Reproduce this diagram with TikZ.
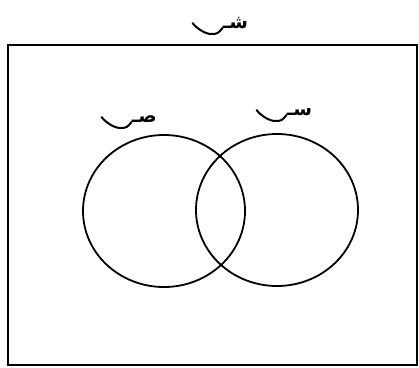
\documentclass[tikz,border=0pt]{standalone}
\usepackage{fontspec}
\newfontfamily\arabicfont[Script=Arabic]{DejaVu Sans}
\TeXXeTstate=1
\usetikzlibrary{shapes.geometric}
% wavy tail that marks a set name
\newcommand\setwave[1]{\draw[line width=2pt, line cap=round] ([xshift=0.5pt]#1.base west)
  .. controls +(-4,5) and +(6,0) .. ++(-11,6) .. controls +(-7,0) and +(4,5) .. ++(-19,-11);}
\begin{document}
\begin{tikzpicture}[x=1pt, y=-1pt, line width=1.8pt,
  every node/.style={inner sep=0pt},
  setlabel/.style={font=\arabicfont\bfseries\fontsize{19}{22}\selectfont, anchor=base west},
  setring/.style={draw, ellipse, minimum width=162pt, minimum height=152pt}]
  \useasboundingbox (0,0) rectangle (419,367);
  \node[draw, rectangle, minimum width=409pt, minimum height=320pt] (univ) at (212.5,205) {};
  \node[setlabel] (univlabel) at (222,28) {\beginR شـ\endR};
  \setwave{univlabel}
  \node[setring] (setA) at (164,211) {};
  \node[setring] (setB) at (277,210) {};
  \node[setlabel] (labelA) at (131,122) {\beginR صـ\endR};
  \setwave{labelA}
  \node[setlabel] (labelB) at (286,115) {\beginR سـ\endR};
  \setwave{labelB}
\end{tikzpicture}
\end{document}
